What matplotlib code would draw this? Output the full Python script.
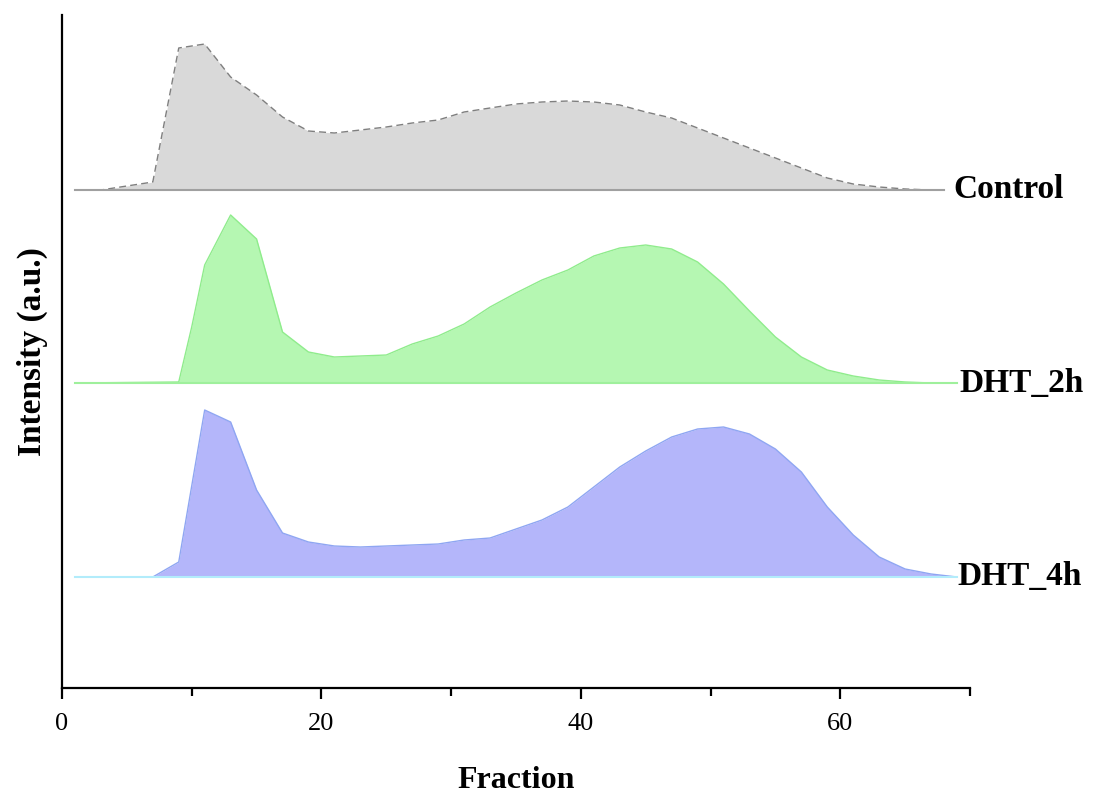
import matplotlib
matplotlib.use("Agg")
import matplotlib.pyplot as plt
from matplotlib.ticker import MultipleLocator

# ---- data ----
control_x = [1, 3, 7, 9, 11, 13, 15, 17, 19, 21, 23, 25, 27, 29, 31, 33, 35, 37, 39, 41, 43,
             45, 47, 49, 51, 53, 55, 57, 59, 61, 63, 65, 67, 68]
control_y = [0, 0, 8, 142, 146, 113, 95, 73, 59, 57, 60, 63, 67, 70, 78, 82, 86, 88, 89, 88, 85,
             78, 72, 62, 52, 42, 32, 22, 12, 6, 3, 1, 0, 0]

dht2_x = [1, 9, 10, 11, 12, 13, 15, 17, 19, 21, 23, 25, 27, 29, 31, 33, 35, 37, 39, 41, 43,
          45, 47, 49, 51, 53, 55, 57, 59, 61, 63, 65, 67, 69]
dht2_y = [0, 1, 56, 118, 143, 168, 144, 51, 31, 26, 27, 28, 39, 47, 59, 76, 90, 103, 113, 127, 135,
          138, 134, 121, 99, 72, 46, 26, 13, 7, 3, 1, 0, 0]

dht4_x = [1, 7, 9, 11, 13, 15, 17, 19, 21, 23, 25, 27, 29, 31, 33, 35, 37, 39, 41, 43,
          45, 47, 49, 51, 53, 55, 57, 59, 61, 63, 65, 67, 69]
dht4_y = [0, 0, 15, 167, 155, 87, 44, 35, 31, 30, 31, 32, 33, 37, 39, 48, 57, 70, 90, 110,
          126, 140, 148, 150, 143, 128, 105, 70, 42, 20, 8, 3, 0]

labels = ["Control", "DHT_2h", "DHT_4h"]

# ---- styling / layout ----
series = [(control_x, control_y), (dht2_x, dht2_y), (dht4_x, dht4_y)]
offsets = [498, 305, 111]
fills = ["#d9d9d9", "#b5f7b2", "#b4b6fa"]
edges = ["#7f7f7f", "#8fec8c", "#8fa6f2"]
base_cols = ["#a0a0a0", "#9ff09c", "#b2ecfb"]
edge_styles = [(0, (5, 3)), "-", "-"]
label_x = [68.7, 69.2, 69.0]

serif = ["Liberation Serif", "DejaVu Serif"]

fig = plt.figure(figsize=(10.93, 7.99), dpi=100)
ax = fig.add_axes([62 / 1093, 1 - 688 / 799, (970 - 62) / 1093, (688 - 15) / 799])

for (xs, ys), off, fc, ec, bc, ls, lab, lx in zip(series, offsets, fills, edges, base_cols,
                                                   edge_styles, labels, label_x):
    top = [off + v for v in ys]
    ax.fill_between(xs, off, top, color=fc, linewidth=0, zorder=2)
    ax.plot(xs, top, color=ec, linestyle=ls, linewidth=1.0, zorder=3)
    ax.plot([xs[0], xs[-1]], [off, off], color=bc, linewidth=1.5, zorder=3)
    ax.text(lx, off, lab, fontsize=24, fontweight="bold", family=serif,
            ha="left", va="center", clip_on=False)

ax.set_xlim(0, 70)
ax.set_ylim(0, 673)
ax.xaxis.set_major_locator(MultipleLocator(20))
ax.xaxis.set_minor_locator(MultipleLocator(10))
ax.set_yticks([])
for s in ["top", "right"]:
    ax.spines[s].set_visible(False)
for s in ["left", "bottom"]:
    ax.spines[s].set_linewidth(1.6)
ax.tick_params(axis="x", which="major", direction="out", length=8, width=1.6, pad=10,
               labelsize=19)
ax.tick_params(axis="x", which="minor", direction="out", length=6, width=1.6)
for t in ax.get_xticklabels():
    t.set_family(serif)

ax.set_xlabel("Fraction", fontsize=23, fontweight="bold", family=serif, labelpad=22)
ax.set_ylabel("Intensity (a.u.)", fontsize=24, fontweight="bold", family=serif, labelpad=10)

fig.savefig("out.png", dpi=100)
